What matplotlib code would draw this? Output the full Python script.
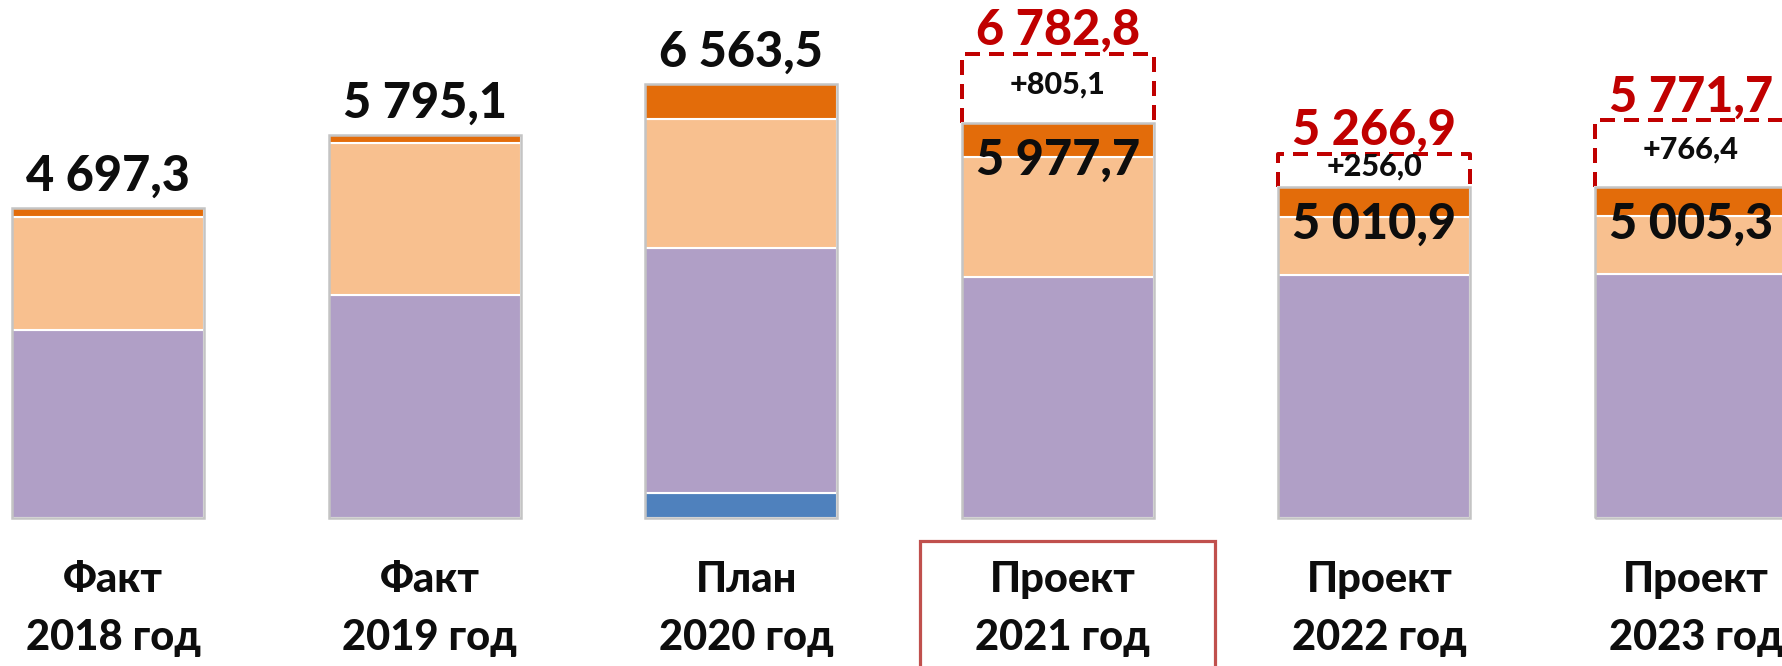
import matplotlib
matplotlib.use('Agg')
import matplotlib.pyplot as plt
import matplotlib.transforms as mtransforms
from matplotlib.patches import Rectangle

plt.rcParams['font.family'] = ['Lato', 'DejaVu Sans']
plt.rcParams['lines.scale_dashes'] = False

# ---------------- data ----------------
cat_kind = ['Факт', 'Факт', 'План', 'Проект', 'Проект', 'Проект']
cat_year = ['2018 год', '2019 год', '2020 год', '2021 год', '2022 год', '2023 год']
seg_blue = [0.0, 0.0, 383.5, 0.0, 0.0, 0.0]
seg_purple = [2850.0, 3375.1, 3700.0, 3647.7, 3675.9, 3685.3]
seg_light = [1697.3, 2300.0, 1950.0, 1815.0, 880.0, 880.0]
seg_dark = [150.0, 120.0, 530.0, 515.0, 455.0, 440.0]
totals = [4697.3, 5795.1, 6563.5, 5977.7, 5010.9, 5005.3]
increments = [0.0, 0.0, 0.0, 805.1, 256.0, 766.4]
highlight = 3  # index of highlighted category

# ---------------- style ----------------
C_BLUE = '#4F81BD'
C_PURPLE = '#B09FC6'
C_LIGHT = '#F8C08F'
C_DARK = '#E36C0A'
C_RED = '#C00000'
C_BOX = '#C0504D'
WEIGHT = 'black'

DPI = 100
W, H = 1783, 666
K = 15.13          # value units per pixel
BOTTOM_PX = 518    # baseline from top, px
STEP_PX = 316.6
FIRST_PX = 108

def fmt(v, sign=False):
    s = f"{v:,.1f}".replace(',', ' ').replace('.', ',')
    return ('+' + s) if sign else s

def pt(px):
    return px * 72.0 / DPI

fig = plt.figure(figsize=(W / DPI, H / DPI), dpi=DPI)
ax = fig.add_axes([0, 0, 1, 1])
ax.set_xlim(-FIRST_PX / STEP_PX, (W - FIRST_PX) / STEP_PX)
ax.set_ylim(-(H - BOTTOM_PX) * K, BOTTOM_PX * K)
ax.axis('off')

x = list(range(len(totals)))
bw = 192 / STEP_PX

bottom = [0.0] * len(x)
for vals, col in [(seg_blue, C_BLUE), (seg_purple, C_PURPLE),
                  (seg_light, C_LIGHT), (seg_dark, C_DARK)]:
    ax.bar(x, vals, bw, bottom=bottom, color=col, edgecolor='white',
           linewidth=1.5, zorder=3)
    bottom = [b + v for b, v in zip(bottom, vals)]

# outline of each bar
ax.bar(x, totals, bw, color='none', edgecolor='#C4C4C4', linewidth=1.8, zorder=4)

BIG = 35
for i, t in enumerate(totals):
    if increments[i] > 0:
        ax.annotate(fmt(t), (i, t), xytext=(0, -pt(52)), textcoords='offset points',
                    ha='center', va='baseline', fontsize=BIG, fontweight=WEIGHT,
                    color='#0D0D0D', zorder=6)
        new_total = t + increments[i]
        box_top = new_total + 245
        ax.plot([i - bw / 2, i - bw / 2, i + bw / 2, i + bw / 2],
                [t, box_top, box_top, t], color=C_RED, lw=pt(4),
                linestyle=(0, (pt(15), pt(9))), zorder=2,
                dash_capstyle='butt')
        ax.annotate(fmt(increments[i], sign=True), (i, (t + box_top) / 2),
                    xytext=(0, pt(4)), textcoords='offset points',
                    ha='center', va='center', fontsize=22, fontweight=WEIGHT,
                    color='#0D0D0D', zorder=6)
        ax.annotate(fmt(new_total), (i, box_top), xytext=(0, pt(9)),
                    textcoords='offset points', ha='center', va='baseline',
                    fontsize=BIG, fontweight=WEIGHT, color=C_RED, zorder=6,
                    annotation_clip=False)
    else:
        ax.annotate(fmt(t), (i, t), xytext=(0, pt(17)), textcoords='offset points',
                    ha='center', va='baseline', fontsize=BIG, fontweight=WEIGHT,
                    color='#0D0D0D', zorder=6)

trans = mtransforms.blended_transform_factory(ax.transData, ax.transAxes)
for i in x:
    ax.text(i + 5 / STEP_PX, 1 - 592 / H, cat_kind[i], transform=trans, ha='center',
            va='baseline', fontsize=30, fontweight=WEIGHT, color='#0D0D0D')
    ax.text(i + 5 / STEP_PX, 1 - 650 / H, cat_year[i], transform=trans, ha='center',
            va='baseline', fontsize=30, fontweight=WEIGHT, color='#0D0D0D')

# highlight box around the selected category label
ax.add_patch(Rectangle((highlight + 10 / STEP_PX - 0.466, -0.1), 0.932,
                       0.1 + 1 - 541 / H, transform=trans, fill=False,
                       edgecolor=C_BOX, linewidth=pt(3.2), zorder=5, clip_on=False))

fig.savefig('out.png', dpi=DPI)
